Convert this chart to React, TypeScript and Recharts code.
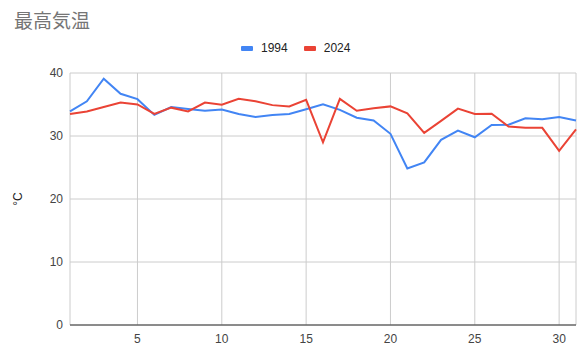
import React from "react";
import { CartesianGrid, Line, LineChart, XAxis, YAxis } from "recharts";

const days = [1, 2, 3, 4, 5, 6, 7, 8, 9, 10, 11, 12, 13, 14, 15, 16, 17, 18, 19, 20, 21, 22, 23, 24, 25, 26, 27, 28, 29, 30, 31];
const t1994 = [33.9, 35.5, 39.1, 36.7, 35.85, 33.35, 34.6, 34.3, 34.0, 34.2, 33.5, 33.0, 33.35, 33.5, 34.25, 35.05, 34.15, 32.9, 32.45, 30.35, 24.85, 25.8, 29.4, 30.85, 29.8, 31.75, 31.8, 32.8, 32.65, 33.0, 32.45];
const t2024 = [33.5, 33.9, 34.6, 35.3, 35.0, 33.5, 34.5, 33.9, 35.3, 34.95, 35.9, 35.5, 34.9, 34.7, 35.75, 29.0, 35.9, 34.0, 34.4, 34.7, 33.6, 30.5, 32.4, 34.35, 33.5, 33.55, 31.5, 31.3, 31.3, 27.65, 31.05];
const xTicks = [5, 10, 15, 20, 25, 30];
const yTicks = [0, 10, 20, 30, 40];

const series = [
  { key: "y1994", name: "1994", color: "#4285F4" },
  { key: "y2024", name: "2024", color: "#EA4335" },
];

const data = days.map((d, i) => ({ day: d, y1994: t1994[i], y2024: t2024[i] }));

const font = "'Liberation Sans', Arial, sans-serif";

function UnitLabel(props: any) {
  const vb = props.viewBox || {};
  const cy = vb.y + vb.height / 2;
  return (
    <text x={18} y={cy} transform={`rotate(-90, 18, ${cy})`} textAnchor="middle" dominantBaseline="central" fontSize={12} fill="#222" fontFamily={font}>
      °C
    </text>
  );
}

export default function App() {
  return (
    <div style={{ position: "absolute", left: 0, top: 0, width: 588, height: 354, fontFamily: font, background: "#fff" }}>
      <div style={{ position: "absolute", left: 14, top: 6, fontSize: 19, color: "#757575", fontFamily: "'Noto Sans CJK JP', sans-serif", lineHeight: "28px" }}>
        最高気温
      </div>
      <div style={{ position: "absolute", left: 241, top: 40, display: "flex", alignItems: "center", fontSize: 12, color: "#222", lineHeight: "16px" }}>
        {series.map((s, i) => (
          <div key={s.key} style={{ display: "flex", alignItems: "center", marginRight: i === 0 ? 16 : 0 }}>
            <span style={{ display: "inline-block", width: 12, height: 5, background: s.color, marginRight: 8, borderRadius: 1 }} />
            <span>{s.name}</span>
          </div>
        ))}
      </div>
      <LineChart width={588} height={354} data={data} margin={{ top: 73, right: 12, bottom: 0, left: 8 }}>
        <CartesianGrid stroke="#cccccc" />
        <XAxis
          dataKey="day"
          type="number"
          domain={[1, 31]}
          ticks={xTicks}
          height={29}
          tickLine={false}
          tickSize={0}
          tickMargin={9}
          axisLine={{ stroke: "#333333" }}
          tick={{ fontSize: 12, fill: "#444", fontFamily: font }}
        />
        <YAxis
          domain={[0, 40]}
          ticks={yTicks}
          width={62}
          tickLine={false}
          axisLine={false}
          tickSize={0}
          tickMargin={7}
          tick={{ fontSize: 12, fill: "#444", fontFamily: font }}
          label={<UnitLabel />}
        />
        {series.map((s) => (
          <Line key={s.key} type="linear" dataKey={s.key} name={s.name} stroke={s.color} strokeWidth={2} dot={false} isAnimationActive={false} />
        ))}
      </LineChart>
    </div>
  );
}
